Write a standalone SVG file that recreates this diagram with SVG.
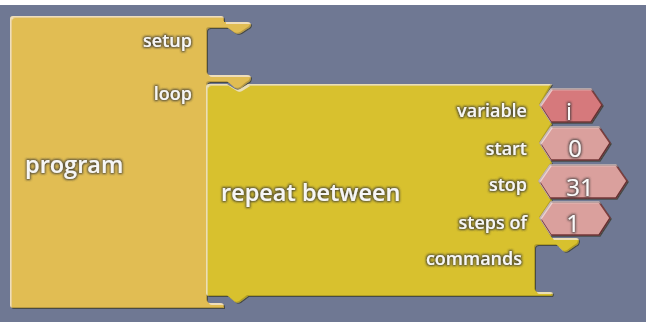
<svg xmlns="http://www.w3.org/2000/svg" width="646" height="322" viewBox="0 0 646 322">
<defs>
<style>
.lbl{font-family:"Open Sans","DejaVu Sans",sans-serif;font-size:18px;font-weight:600;fill:#f6f6f6;filter:url(#glow)}
.big{font-size:23.5px}
.val{font-family:"Open Sans","DejaVu Sans",sans-serif;font-size:24px;font-weight:500;fill:#fafafa;text-anchor:middle;filter:url(#glow)}
.end{text-anchor:end}
.prog{fill:#e1bd52;filter:url(#bevel)}
.rep{fill:#d8c12f;filter:url(#bevel)}
.hex{stroke:#7e3f3f;stroke-width:1.4;stroke-linejoin:round;filter:url(#bevel)}
.hv{fill:#d6797c}
.hn{fill:#daa09d}
</style>
<filter id="glow" x="-20%" y="-40%" width="140%" height="180%">
<feMorphology in="SourceAlpha" operator="dilate" radius="1" result="d"/>
<feGaussianBlur in="d" stdDeviation="1.2" result="b"/>
<feFlood flood-color="#333333" flood-opacity="0.8"/>
<feComposite in2="b" operator="in" result="s"/>
<feMerge><feMergeNode in="s"/><feMergeNode in="SourceGraphic"/></feMerge>
</filter>
<filter id="bevel" x="-5%" y="-5%" width="110%" height="110%">
<feOffset in="SourceAlpha" dx="1.5" dy="1.5" result="o1"/>
<feComposite in="SourceAlpha" in2="o1" operator="out" result="hl"/>
<feFlood flood-color="#ffffff" flood-opacity="0.45"/>
<feComposite in2="hl" operator="in" result="hlc"/>
<feOffset in="SourceAlpha" dx="-1.5" dy="-1.5" result="o2"/>
<feComposite in="SourceAlpha" in2="o2" operator="out" result="sh"/>
<feFlood flood-color="#000000" flood-opacity="0.35"/>
<feComposite in2="sh" operator="in" result="shc"/>
<feOffset in="SourceAlpha" dx="1" dy="1.2" result="o3"/>
<feComposite in="o3" in2="SourceAlpha" operator="out" result="outs"/>
<feFlood flood-color="#2a2a10" flood-opacity="0.6"/>
<feComposite in2="outs" operator="in" result="outc"/>
<feMerge><feMergeNode in="outc"/><feMergeNode in="SourceGraphic"/><feMergeNode in="hlc"/><feMergeNode in="shc"/></feMerge>
</filter>
</defs>
<rect x="0" y="0" width="646" height="322" fill="#6f7893"/>
<rect x="0" y="0" width="646" height="5" fill="#ffffff"/>
<g id="connectors"></g>
<g id="node-program">
<path class="prog" d="M10,19 Q10,16 13,16 L221,16 Q224,16 224,19 L224,22 L247,22 Q251,22 251,25 L250,27 Q249,28 247,29 L241,33 Q238,34.5 235,33 L228,28 L210,28 Q207,28 207,31 L207,72 Q207,75 210,75 L247,75 Q251,75 251,78 L250,81 Q249,82 247,83 L241,88 Q238,89.5 235,88 L228,82 L210,82 Q207,82 207,85 L207,300 Q207,303 210,303 L220,303 Q224,303 224,306 L224,308 L13,308 Q10,308 10,305 Z"/>
<text class="lbl end" x="192" y="47">setup</text>
<text class="lbl end" x="192" y="100">loop</text>
<text class="lbl big" x="25" y="173">program</text>
</g>
<g id="node-repeat">
<path class="rep" d="M206,87 Q206,84 209,84 L227,84 L235,89 Q237.5,90.5 240,89 L248,84 L552,84 L540,105 L552,124 L540,143 L552,163 L540,181 L552,200 L540,218 L552,238 L576,238 Q579,238 579,241 L578,244 Q577,245 575,246 L568,251 Q565.5,252.5 563,251 L557,245 L538,245 Q535,245 535,248 L535,289 Q535,292 538,292 L550,292 Q553,292 553,294 L552,296 L248,296 L240,302 Q237.5,303.5 235,302 L228,296 L209,296 Q206,296 206,293 Z"/>
<text class="lbl big" x="221" y="201">repeat between</text>
<text class="lbl end" x="527" y="117">variable</text>
<text class="lbl end" x="527" y="155">start</text>
<text class="lbl end" x="527" y="191">stop</text>
<text class="lbl end" x="527" y="229">steps of</text>
<text class="lbl end" x="522" y="265">commands</text>
</g>
<g id="node-variable">
<path class="hex hv" d="M540,105 L551,89 L591,89 L602,105 L591,122 L551,122 Z"/>
<text class="val" x="569" y="120">i</text>
</g>
<g id="node-start">
<path class="hex hn" d="M540,143 L551,127 L599,127 L610,143 L599,160 L551,160 Z"/>
<text class="val" x="575" y="157">0</text>
</g>
<g id="node-stop">
<path class="hex hn" d="M539,181 L550,165 L616,165 L627,181 L616,198 L550,198 Z"/>
<text class="val" x="580" y="196">31</text>
</g>
<g id="node-steps">
<path class="hex hn" d="M540,218 L551,202 L599,202 L610,218 L599,235 L551,235 Z"/>
<text class="val" x="573" y="232">1</text>
</g>
</svg>
